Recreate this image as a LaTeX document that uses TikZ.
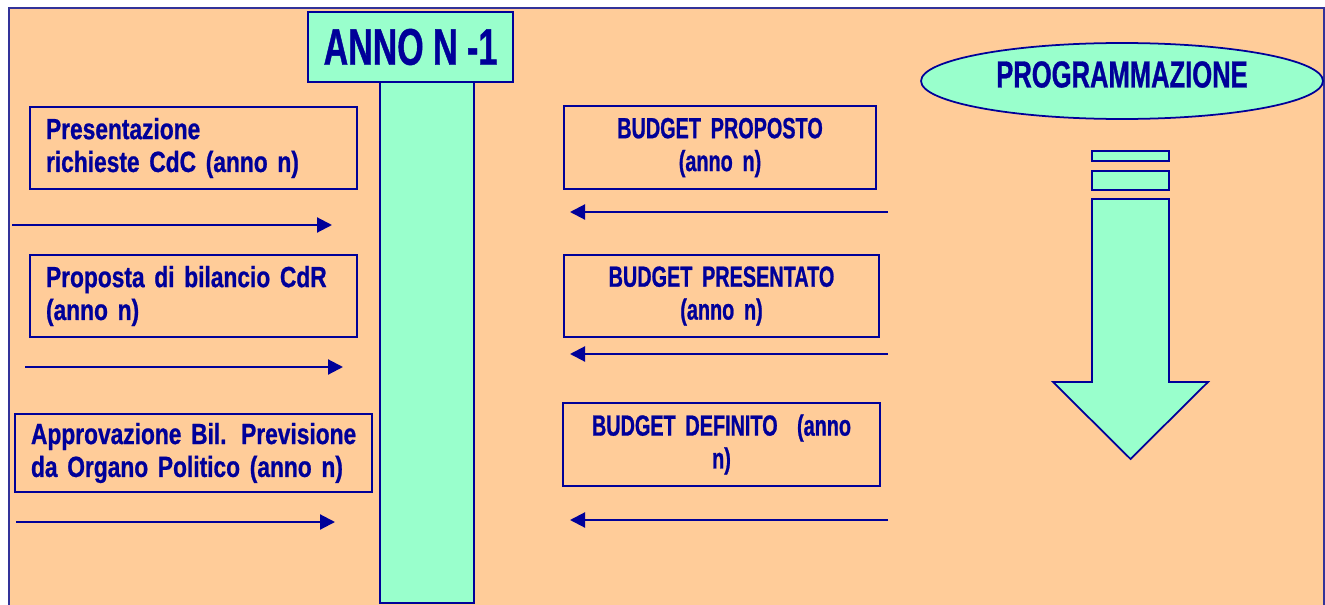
\documentclass[tikz,border=0pt]{standalone}
\usepackage{fontspec}
\usetikzlibrary{shapes.geometric,arrows.meta}
\newfontfamily\impL{Liberation Sans}[FakeStretch=0.78,WordSpace=0.72,FakeBold=0.8]
\newfontfamily\impC{Liberation Sans}[FakeStretch=0.68,WordSpace=0.72,FakeBold=0.8]
\newfontfamily\impT{Liberation Sans}[FakeStretch=0.66,FakeBold=0.8]
\definecolor{peach}{HTML}{FFCC99}
\definecolor{mint}{HTML}{99FFCC}
\definecolor{navy}{HTML}{000099}
\definecolor{framec}{HTML}{333399}
\tikzset{
  boxfont/.style={font=\impL\bfseries\fontsize{16.6}{18.7}\selectfont},
  capfont/.style={font=\impC\bfseries\fontsize{16.6}{18.7}\selectfont},
  lbox/.style={draw=navy, line width=1pt, text=navy, boxfont, inner xsep=0.32cm, inner ysep=0pt,
    minimum height=1.64cm, align=left, execute at begin node={\hyphenpenalty=10000}},
  rbox/.style={draw=navy, line width=1pt, text=navy, capfont, inner xsep=0.32cm, inner ysep=0pt,
    minimum height=1.64cm, align=center, execute at begin node={\hyphenpenalty=10000}},
  flow/.style={draw=navy, line width=1.2pt, -{Triangle[length=0.3cm,width=0.3cm]}},
  mintshape/.style={draw=navy, line width=1pt, fill=mint},
}
\begin{document}
\begin{tikzpicture}[x=0.02cm,y=-0.02cm]
\useasboundingbox (0,0) rectangle (1325,605);
\clip (0,0) rectangle (1325,605);
% background
\fill[peach] (9,8) rectangle (1324,615);
\draw[framec, line width=1.2pt] (9,615) -- (9,8) -- (1324,8) -- (1324,615);

% central bar and title
\node[mintshape, minimum width=1.88cm, minimum height=10.42cm, inner sep=0pt] (bar) at (427,342.5) {};
\node[mintshape, minimum width=4.1cm, minimum height=1.4cm, inner sep=0pt, text=navy,
  font=\impT\bfseries\fontsize{29.3}{32}\selectfont] (anno) at (410.5,47) {ANNO N -1};

% left boxes
\node[lbox, text width=5.9cm] (b1) at (193.5,148) {\mbox{Presentazione}\\\mbox{richieste CdC (anno n)}};
\node[lbox, text width=5.9cm] (b2) at (193.5,296) {\mbox{Proposta di bilancio CdR}\\\mbox{(anno n)}};
\node[lbox, text width=6.5cm, minimum height=1.56cm] (b3) at (193.5,453) {\mbox{Approvazione Bil. Previsione}\\\mbox{da Organo Politico (anno n)}};

% right boxes
\node[rbox, text width=5.6cm, minimum height=1.66cm] (r1) at (720,147.5) {BUDGET PROPOSTO\\(anno n)};
\node[rbox, text width=5.66cm] (r2) at (721.5,296) {BUDGET PRESENTATO\\(anno n)};
\node[rbox, text width=5.7cm, minimum height=1.66cm] (r3) at (721.5,444.5) {BUDGET DEFINITO~~(anno\\n)};

% arrow endpoints
\coordinate (a1s) at (12,225);  \coordinate (a1e) at (332,225);
\coordinate (a2s) at (25,367);  \coordinate (a2e) at (343,367);
\coordinate (a3s) at (16,522);  \coordinate (a3e) at (335,522);
\coordinate (c1s) at (888,212); \coordinate (c1e) at (570,212);
\coordinate (c2s) at (888,354); \coordinate (c2e) at (570,354);
\coordinate (c3s) at (888,520); \coordinate (c3e) at (570,520);
\draw[flow] (a1s) -- (a1e);
\draw[flow] (a2s) -- (a2e);
\draw[flow] (a3s) -- (a3e);
\draw[flow] (c1s) -- (c1e);
\draw[flow] (c2s) -- (c2e);
\draw[flow] (c3s) -- (c3e);

% programmazione
\node[ellipse, mintshape, minimum width=8.04cm, minimum height=1.52cm, inner sep=0pt] (progshape) at (1122,81) {};
\node[text=navy, inner sep=0pt, font=\impC\bfseries\fontsize{21.4}{24}\selectfont] (prog) at (1122,74.5) {PROGRAMMAZIONE};

% big down arrow
\draw[mintshape] (1092,151) rectangle (1169,161);
\draw[mintshape] (1092,171) rectangle (1169,190);
\draw[mintshape, line join=miter] (1092,199) -- (1169,199) -- (1169,382) -- (1208,382) -- (1130.5,459) -- (1053,382) -- (1092,382) -- cycle;
\end{tikzpicture}
\end{document}
